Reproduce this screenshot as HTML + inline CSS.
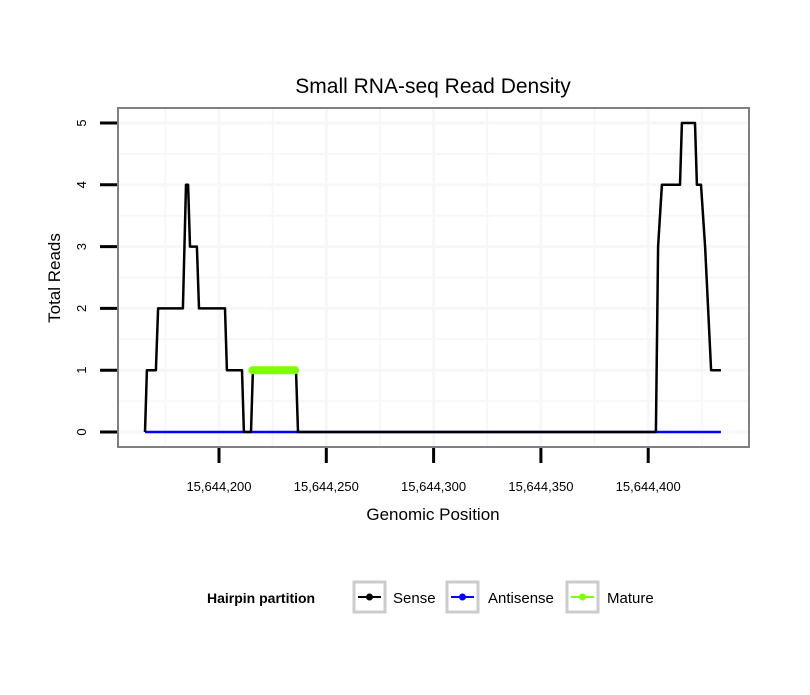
<!DOCTYPE html>
<html><head><meta charset="utf-8"><style>
body{margin:0;background:#fff;}
svg text{font-family:"Liberation Sans",sans-serif;}
</style></head><body>
<svg id="chart" width="810" height="690" viewBox="0 0 810 690">
<text x="433" y="93" font-size="21" text-anchor="middle">Small RNA-seq Read Density</text>
<rect x="118" y="108" width="631" height="339" fill="#fff"/>
<g id="grid"></g>
<g id="series"></g>
<rect x="118" y="108" width="631" height="339" fill="none" stroke="#808080" stroke-width="2"/>
<g id="axes"></g>
<text x="433" y="520" font-size="17" text-anchor="middle">Genomic Position</text>
<text transform="translate(60,278) rotate(-90)" font-size="17" text-anchor="middle">Total Reads</text>
<g>
<text x="207" y="603" font-size="14" font-weight="bold">Hairpin partition</text>
<g>
<rect x="354" y="582" width="31" height="30" fill="#fff" stroke="#ccc" stroke-width="3"/>
<line x1="358" y1="597" x2="381" y2="597" stroke="#000" stroke-width="2"/><circle cx="369.5" cy="597" r="3.5" fill="#000"/>
<text x="393" y="603" font-size="15">Sense</text></g>
<g>
<rect x="447" y="582" width="31" height="30" fill="#fff" stroke="#ccc" stroke-width="3"/>
<line x1="451" y1="597" x2="474" y2="597" stroke="#0000ff" stroke-width="2"/><circle cx="462.5" cy="597" r="3.5" fill="#0000ff"/>
<text x="488" y="603" font-size="15">Antisense</text></g>
<g>
<rect x="567" y="582" width="31" height="30" fill="#fff" stroke="#ccc" stroke-width="3"/>
<line x1="571" y1="597" x2="594" y2="597" stroke="#7fff00" stroke-width="2"/><circle cx="582.5" cy="597" r="3.5" fill="#7fff00"/>
<text x="607" y="603" font-size="15">Mature</text></g>
</g>
</svg>
<script>
const xTicks=[15644200,15644250,15644300,15644350,15644400];
const xTickLabels=["15,644,200","15,644,250","15,644,300","15,644,350","15,644,400"];
const yTicks=[0,1,2,3,4,5];
const senseX=[15644165.5,15644166.4,15644170.6,15644171.6,15644183.2,15644184.6,15644185.6,15644186.5,15644189.7,15644190.7,15644202.8,15644203.7,15644210.7,15644211.6,15644214.9,15644215.8,15644235.9,15644236.8,15644403.6,15644404.6,15644406.4,15644414.8,15644415.7,15644421.8,15644422.7,15644424.6,15644426.5,15644429.3,15644433.9];
const senseY=[0,1,1,2,2,4,4,3,3,2,2,1,1,0,0,1,1,0,0,3,4,4,5,5,4,4,3,1,1];
const antisenseX=[15644165.5,15644433.9];
const antisenseY=[0,0];
const matureX=[15644215.5,15644220,15644225,15644230,15644235.5];
const matureY=[1,1,1,1,1];

const NS="http://www.w3.org/2000/svg";
function sx(v){return 219+(v-15644200)*2.146;}
function sy(v){return 432-v*61.8;}
function mk(tag,attrs,parent){const e=document.createElementNS(NS,tag);for(const k in attrs)e.setAttribute(k,attrs[k]);parent.appendChild(e);return e;}
const grid=document.getElementById('grid'),series=document.getElementById('series'),axes=document.getElementById('axes');
const step=xTicks[1]-xTicks[0];
for(let i=-1;i<xTicks.length+1;i++){
  const maj=xTicks[0]+i*step;
  [maj,maj+step/2].forEach((v,j)=>{const px=sx(v);if(px>119&&px<748){
    const l=mk('line',{x1:px,x2:px,y1:109,y2:446,stroke:'#f7f7f7','stroke-width':j?2:3},grid);
    
    }});
}
for(let v=-0.5;v<=5.5;v+=0.5){const py=sy(v);if(py>109&&py<446){
  const l=mk('line',{x1:119,x2:748,y1:py,y2:py,stroke:'#f7f7f7','stroke-width':(v%1===0)?3:2},grid);
  
  }}
function path(xs,ys){return xs.map((x,i)=>(i?'L':'M')+sx(x).toFixed(1)+','+sy(ys[i]).toFixed(1)).join(' ');}
const a=mk('path',{d:path(antisenseX,antisenseY),fill:'none',stroke:'#0000ff','stroke-width':2.5},series);


const s=mk('path',{d:path(senseX,senseY),fill:'none',stroke:'#000','stroke-width':2.5,'stroke-linejoin':'round'},series);


const m=mk('path',{d:path(matureX,matureY),fill:'none',stroke:'#7fff00','stroke-width':8,'stroke-linecap':'round'},series);


xTicks.forEach((v,i)=>{const px=sx(v);
  const t=mk('line',{x1:px,x2:px,y1:448,y2:463,stroke:'#000','stroke-width':3},axes);
  
  
  const tx=mk('text',{x:px,y:491,'font-size':13,'text-anchor':'middle'},axes);tx.textContent=xTickLabels[i];
  
  });
yTicks.forEach(v=>{const py=sy(v);
  const t=mk('line',{x1:100,x2:117,y1:py,y2:py,stroke:'#000','stroke-width':3},axes);
  
  
  const tx=mk('text',{transform:`translate(86,${py}) rotate(-90)`,'font-size':13,'text-anchor':'middle'},axes);tx.textContent=v;
  
  });
</script>
</body></html>
